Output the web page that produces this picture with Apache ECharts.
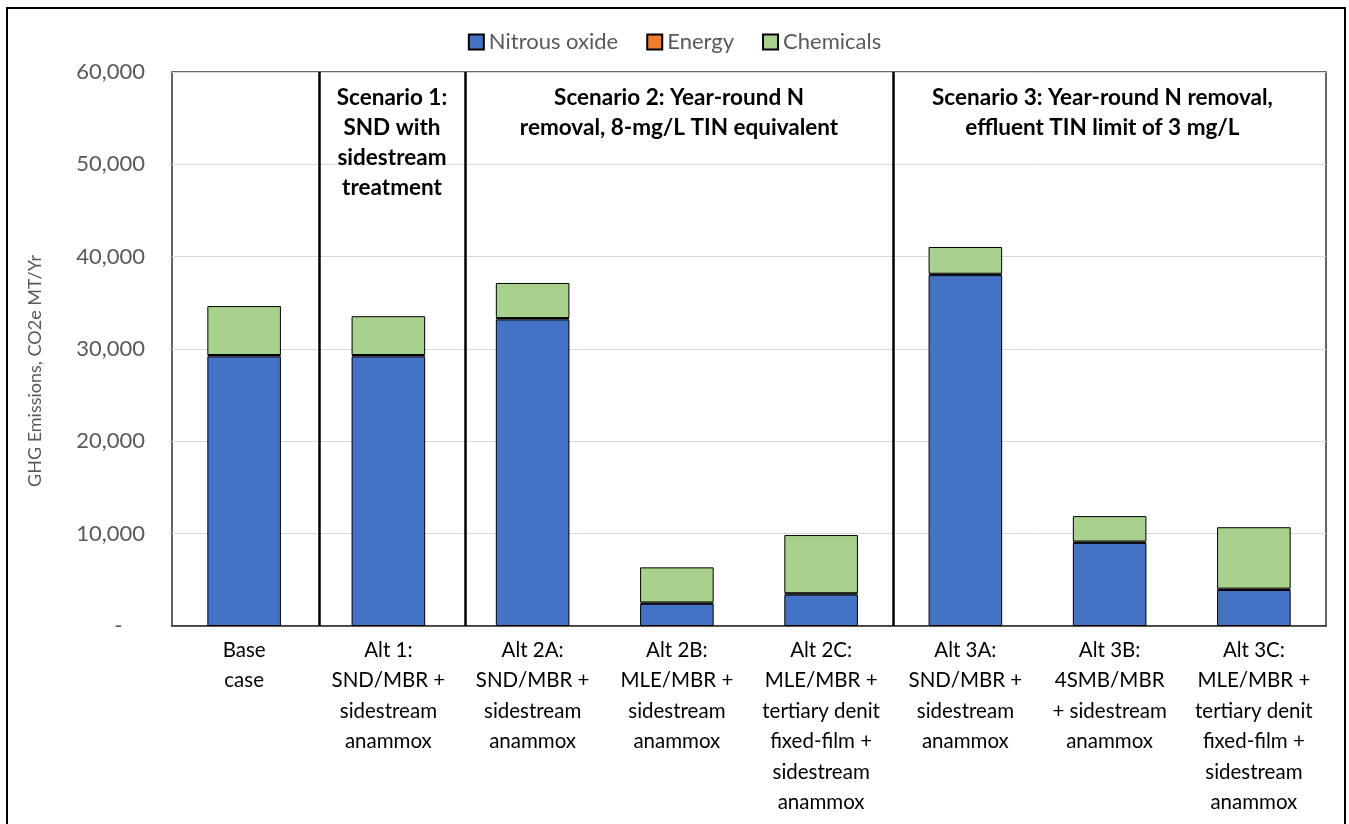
<!DOCTYPE html>
<html>
<head>
<meta charset="utf-8">
<script src="https://cdn.jsdelivr.net/npm/echarts@6/dist/echarts.min.js"></script>
<style>
  html, body { margin: 0; padding: 0; background: #fff; }
  #main { width: 1349px; height: 824px; }
</style>
</head>
<body>
<div id="main"></div>
<script>
// categories (x axis)
var categories = [
  'Base\ncase',
  'Alt 1:\nSND/MBR +\nsidestream\nanammox',
  'Alt 2A:\nSND/MBR +\nsidestream\nanammox',
  'Alt 2B:\nMLE/MBR +\nsidestream\nanammox',
  'Alt 2C:\nMLE/MBR +\ntertiary denit\nfixed-film +\nsidestream\nanammox',
  'Alt 3A:\nSND/MBR +\nsidestream\nanammox',
  'Alt 3B:\n4SMB/MBR\n+ sidestream\nanammox',
  'Alt 3C:\nMLE/MBR +\ntertiary denit\nfixed-film +\nsidestream\nanammox'
]
// CO2e MT/Yr
var nitrousOxide = [29200, 29200, 33200, 2400, 3400, 38000, 9000, 3900]
var energy = [150, 150, 150, 150, 150, 150, 150, 150]
var chemicals = [5300, 4200, 3800, 3800, 6300, 2900, 2750, 6650]

// scenario groups: separators and headings, in category units
var separators = [1.02, 2.03, 5.0]
var scenarios = [
  { name: 'Scenario 1:\nSND with\nsidestream\ntreatment', from: 1.02, to: 2.03 },
  { name: 'Scenario 2: Year-round N\nremoval, 8-mg/L TIN equivalent', from: 2.03, to: 5 },
  { name: 'Scenario 3: Year-round N removal,\neffluent TIN limit of 3 mg/L', from: 5, to: 7.9 }
]

var FONT = 'Lato, "Open Sans", sans-serif'

var myChart = echarts.init(document.getElementById('main'))

function barSeries(name, data, color) {
  return {
    name: name,
    type: 'bar',
    stack: 'total',
    data: data,
    barWidth: '51%',
    itemStyle: { color: color, borderColor: '#000', borderWidth: 1 }
  }
}

myChart.setOption({
  animation: false,
  textStyle: { fontFamily: FONT },
  graphic: [
    {
      type: 'rect',
      shape: { x: 7, y: 8, width: 1338, height: 830 },
      style: { fill: 'none', stroke: '#000', lineWidth: 2 },
      silent: true
    }
  ],
  legend: {
    data: ['Nitrous oxide', 'Energy', 'Chemicals'],
    top: 26,
    left: 'center',
    itemWidth: 15,
    itemHeight: 15,
    itemGap: 28,
    icon: 'rect',
    textStyle: { fontSize: 22, color: '#595959', fontFamily: FONT }
  },
  grid: {
    left: 172,
    right: 23,
    top: 72,
    bottom: 198,
    show: true,
    borderColor: '#333',
    borderWidth: 1.5
  },
  xAxis: [
    {
      type: 'category',
      data: categories,
      axisTick: { show: false },
      axisLine: { show: true, lineStyle: { color: '#333', width: 1.5 } },
      axisLabel: {
        interval: 0,
        fontSize: 20.5,
        lineHeight: 30.5,
        color: '#000',
        margin: 9,
        fontFamily: FONT
      }
    },
    {
      type: 'value',
      min: 0,
      max: 8,
      show: false
    }
  ],
  yAxis: {
    type: 'value',
    min: 0,
    max: 60000,
    interval: 10000,
    name: 'GHG Emissions, CO2e MT/Yr',
    nameLocation: 'middle',
    nameGap: 128,
    nameTextStyle: { fontSize: 18, color: '#595959', fontFamily: FONT, padding: [0, 44, 0, 0] },
    axisLine: { show: false },
    axisTick: { show: false },
    splitLine: { lineStyle: { color: '#d9d9d9', width: 1 } },
    axisLabel: {
      fontSize: 22,
      color: '#595959',
      margin: 27,
      fontFamily: FONT,
      formatter: function (v) {
        return v === 0 ? '-    ' : v.toLocaleString('en-US')
      }
    }
  },
  series: [
    barSeries('Nitrous oxide', nitrousOxide, '#4472C4'),
    barSeries('Energy', energy, '#ED7D31'),
    barSeries('Chemicals', chemicals, '#A9D18E'),
    {
      name: 'scenarios',
      type: 'line',
      xAxisIndex: 1,
      data: [],
      silent: true,
      markLine: {
        symbol: 'none',
        silent: true,
        label: { show: false },
        lineStyle: { color: '#000', width: 2.5, type: 'solid' },
        data: separators.map(function (x) { return { xAxis: x } })
      },
      markArea: {
        silent: true,
        itemStyle: { color: 'rgba(0,0,0,0)' },
        label: {
          show: true,
          position: 'insideTop',
          distance: 11,
          fontSize: 22.5,
          fontWeight: 'bold',
          lineHeight: 30,
          color: '#000',
          fontFamily: FONT
        },
        data: scenarios.map(function (s) {
          return [{ name: s.name, xAxis: s.from }, { xAxis: s.to }]
        })
      }
    }
  ]
})
</script>
</body>
</html>
